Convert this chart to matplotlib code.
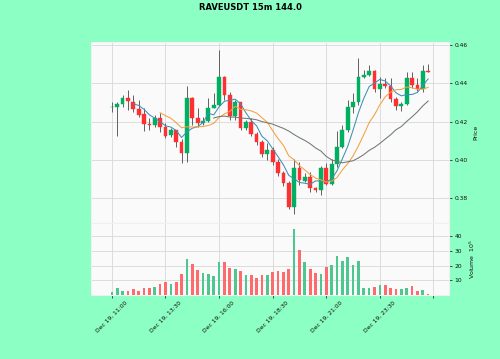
import numpy as np
import pandas as pd
import matplotlib
matplotlib.use("Agg")
import matplotlib.pyplot as plt

# ---- data (15m candles, Dec 19 11:00 onward) ----
opens = [0.4276, 0.4276, 0.4290, 0.4322, 0.4304, 0.4266, 0.4238, 0.4189, 0.4182, 0.4221,
         0.4175, 0.4130, 0.4155, 0.4092, 0.4035, 0.4325, 0.4217, 0.4191, 0.4203, 0.4273,
         0.4287, 0.4431, 0.4339, 0.4231, 0.4301, 0.4168, 0.4196, 0.4134, 0.4092, 0.4029,
         0.4050, 0.3988, 0.3930, 0.3878, 0.3756, 0.3956, 0.3892, 0.3911, 0.3852, 0.3843,
         0.3956, 0.3873, 0.3978, 0.4069, 0.4156, 0.4278, 0.4301, 0.4431, 0.4443, 0.4464,
         0.4370, 0.4398, 0.4388, 0.4318, 0.4283, 0.4290, 0.4429, 0.4391, 0.4370, 0.4464]
highs = [0.4304, 0.4304, 0.4339, 0.4365, 0.4342, 0.4313, 0.4269, 0.4217, 0.4235, 0.4243,
         0.4191, 0.4165, 0.4156, 0.4109, 0.4388, 0.4330, 0.4269, 0.4226, 0.4322, 0.4348,
         0.4574, 0.4440, 0.4356, 0.4313, 0.4304, 0.4209, 0.4217, 0.4144, 0.4104, 0.4087,
         0.4069, 0.4008, 0.3942, 0.3890, 0.4008, 0.3988, 0.3930, 0.3939, 0.3861, 0.3970,
         0.3982, 0.4008, 0.4151, 0.4182, 0.4313, 0.4348, 0.4534, 0.4470, 0.4496, 0.4470,
         0.4435, 0.4426, 0.4426, 0.4330, 0.4304, 0.4461, 0.4461, 0.4426, 0.4496, 0.4499]
lows = [0.4252, 0.4127, 0.4278, 0.4261, 0.4252, 0.4226, 0.4151, 0.4156, 0.4174, 0.4148,
        0.4116, 0.4122, 0.4069, 0.3982, 0.3988, 0.4182, 0.4174, 0.4182, 0.4196, 0.4269,
        0.4282, 0.4313, 0.4209, 0.4209, 0.4156, 0.4156, 0.4127, 0.4081, 0.4017, 0.4000,
        0.3974, 0.3918, 0.3866, 0.3747, 0.3721, 0.3869, 0.3887, 0.3834, 0.3834, 0.3817,
        0.3869, 0.3869, 0.3965, 0.4061, 0.4144, 0.4243, 0.4287, 0.4426, 0.4440, 0.4356,
        0.4325, 0.4377, 0.4304, 0.4261, 0.4255, 0.4287, 0.4377, 0.4360, 0.4356, 0.4461]
closes = [0.4278, 0.4290, 0.4325, 0.4308, 0.4266, 0.4235, 0.4188, 0.4182, 0.4221, 0.4175,
          0.4127, 0.4155, 0.4095, 0.4035, 0.4325, 0.4221, 0.4195, 0.4203, 0.4273, 0.4287,
          0.4431, 0.4339, 0.4231, 0.4301, 0.4168, 0.4196, 0.4134, 0.4092, 0.4029, 0.4050,
          0.3988, 0.3930, 0.3878, 0.3756, 0.3956, 0.3895, 0.3909, 0.3852, 0.3843, 0.3956,
          0.3873, 0.3978, 0.4069, 0.4156, 0.4278, 0.4301, 0.4431, 0.4443, 0.4464, 0.4370,
          0.4396, 0.4388, 0.4318, 0.4283, 0.4290, 0.4429, 0.4391, 0.4370, 0.4464, 0.4462]
# volume in units of 10^5
volumes = [2.3, 4.5, 3.0, 3.0, 4.0, 3.0, 4.5, 5.0, 5.5, 7.3,
           8.6, 7.3, 8.6, 14.0, 24.5, 21.0, 17.3, 14.8, 14.3, 13.2,
           22.7, 22.3, 18.6, 18.0, 16.4, 13.4, 13.4, 11.4, 13.6, 13.6,
           16.0, 16.6, 16.0, 17.7, 45.0, 30.7, 22.3, 17.5, 15.2, 14.5,
           19.0, 20.5, 26.8, 23.2, 25.7, 20.5, 23.4, 5.0, 5.0, 5.7,
           6.8, 6.6, 5.0, 4.0, 4.0, 5.0, 5.9, 3.0, 3.4, 0.5]
tick_labels = ["Dec 19, 11:00", "Dec 19, 13:30", "Dec 19, 16:00",
               "Dec 19, 18:30", "Dec 19, 21:00", "Dec 19, 23:30", ""]
mav_periods = [5, 10, 20]
title = "RAVEUSDT 15m 144.0"

# ---- style ----
fig_bg = "#8cffc4"
ax_bg = "#fafafa"
grid_c = "#d8d8d8"
up_c, down_c = "#00b060", "#fe3032"
vup_c, vdown_c = "#4dc790", "#fd6b6c"
wick_c = "#606060"
mav_colors = ["#3f8fb5", "#f5a040", "#6e7a72"]

W, H = 500, 359
fig = plt.figure(figsize=(W / 100, H / 100), dpi=100, facecolor=fig_bg)
left, right = 91, 449
top, split, bottom = 42, 222.7, 295
ax1 = fig.add_axes([left / W, 1 - split / H, (right - left) / W, (split - top) / H])
ax2 = fig.add_axes([left / W, 1 - bottom / H, (right - left) / W, (bottom - split) / H], sharex=ax1)

df = pd.DataFrame({"o": opens, "h": highs, "l": lows, "c": closes, "v": volumes})
x = np.arange(len(df))
up = df["c"] >= df["o"]

for ax in (ax1, ax2):
    ax.set_facecolor(ax_bg)
    ax.grid(True, color=grid_c, linewidth=0.6)
    ax.set_axisbelow(True)
    for s in ax.spines.values():
        s.set_color("#f0f0f0")
    ax.yaxis.tick_right()
    ax.yaxis.set_label_position("right")
    ax.tick_params(labelsize=4.3, length=2.5, width=0.5, colors="#101010", pad=1.5)

# wicks
ax1.vlines(x, df["l"], df["h"], color=wick_c, linewidth=0.7, zorder=2)
# bodies
body_bottom = np.minimum(df["o"], df["c"])
body_h = np.maximum(np.abs(df["c"] - df["o"]), 0.00025)
colors = np.where(up, up_c, down_c)
ax1.bar(x, body_h, bottom=body_bottom, width=0.7, color=colors, edgecolor=colors,
        linewidth=0.3, zorder=3)

# moving averages
for p, col in zip(mav_periods, mav_colors):
    ax1.plot(x, df["c"].rolling(p).mean(), color=col, linewidth=0.75, zorder=4)

ax1.set_ylim(0.3673, 0.4616)
ax1.set_yticks([0.38, 0.40, 0.42, 0.44, 0.46])
ax1.set_yticklabels([f"{v:.2f}" for v in [0.38, 0.40, 0.42, 0.44, 0.46]])
ax1.set_ylabel("Price", fontsize=4.5, color="#101010", labelpad=4)
ax1.tick_params(axis="x", labelbottom=False, length=0)

# volume
vcol = np.where(up, vup_c, vdown_c)
ax2.bar(x, df["v"], width=0.5, color=vcol, zorder=3)
ax2.set_ylim(0, 49.3)
ax2.set_yticks([10, 20, 30, 40])
ax2.set_ylabel("Volume  $10^{5}$", fontsize=4.5, color="#101010", labelpad=4)

ax2.set_xlim(-3.9, 62.9)
ax2.set_xticks(np.arange(0, 61, 10))
ax2.set_xticklabels(tick_labels, rotation=45, ha="center")

fig.suptitle(title, fontsize=6.0, fontweight="bold", y=1 - 8 / H, va="center")

fig.savefig("out.png", dpi=100, facecolor=fig_bg)
